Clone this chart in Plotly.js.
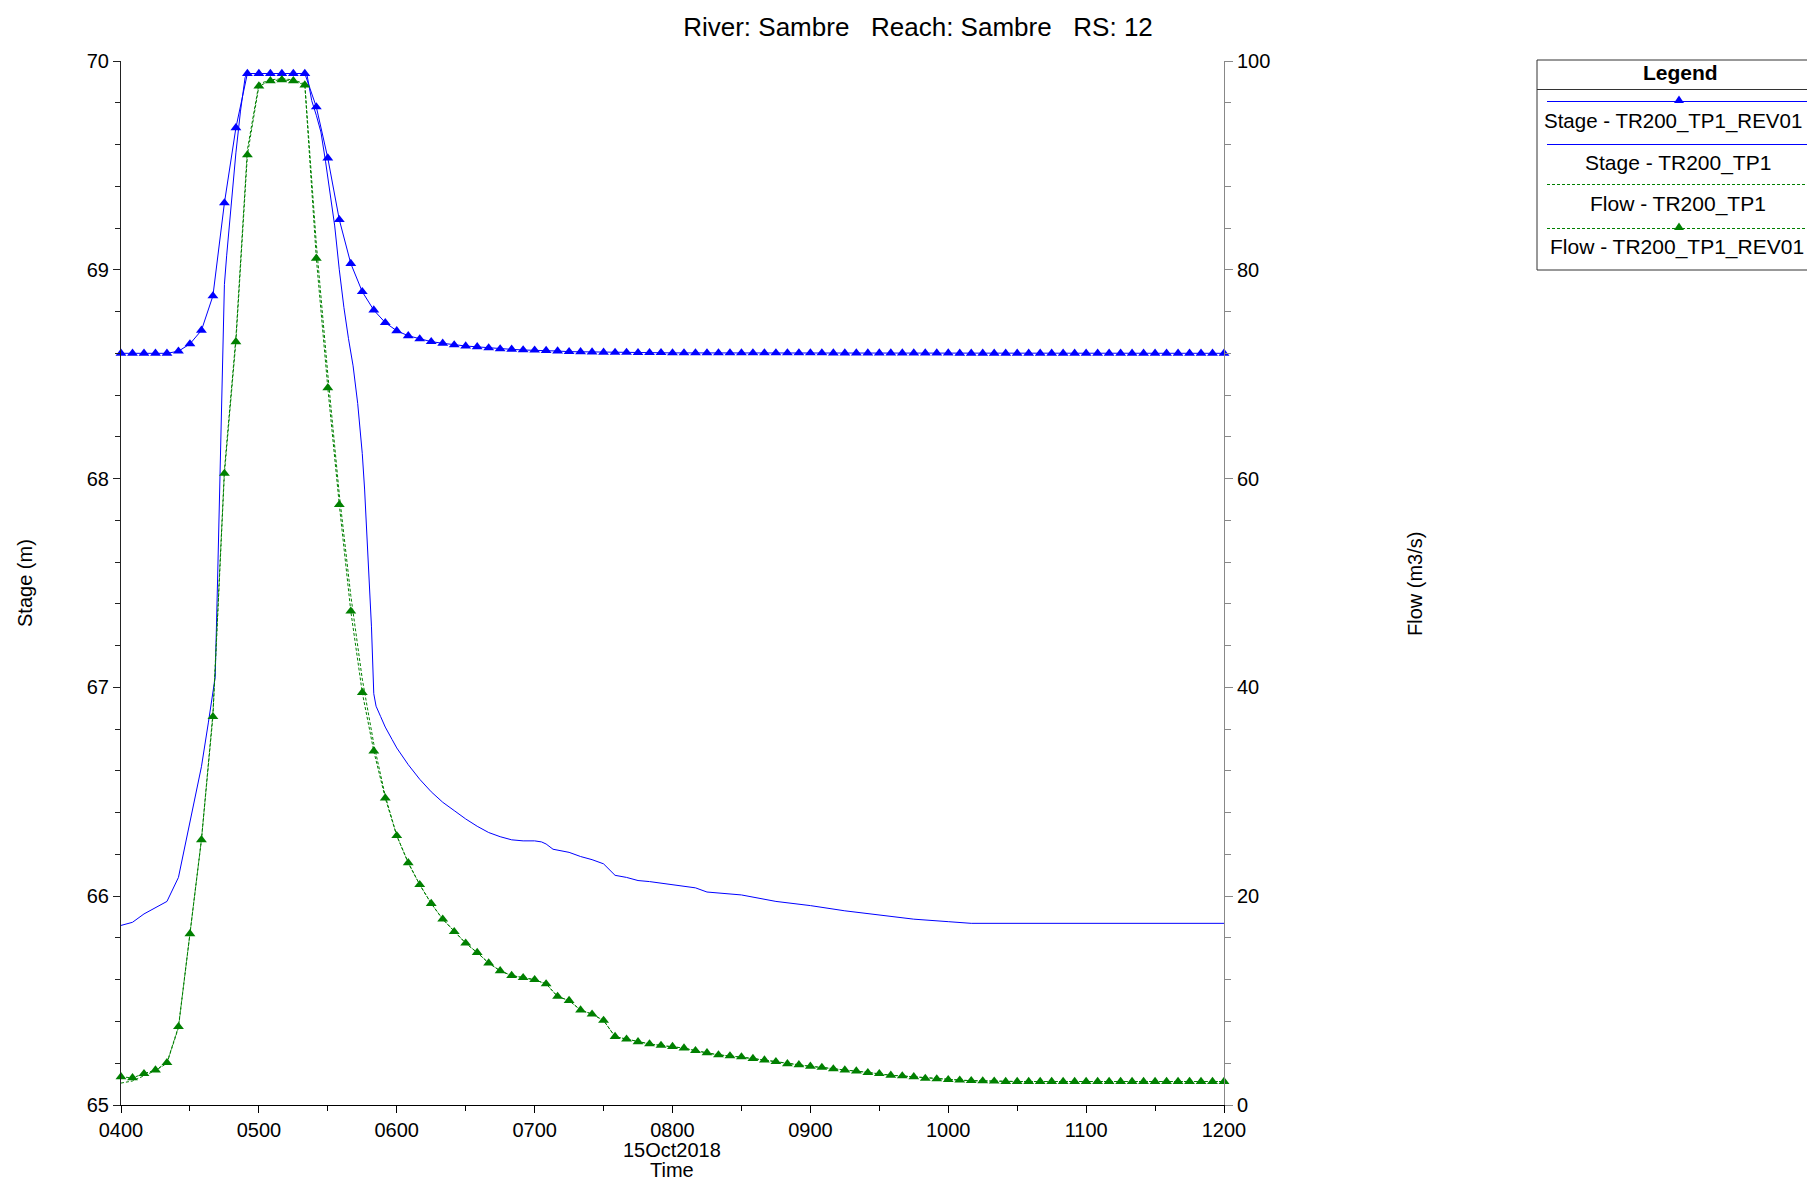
<!DOCTYPE html>
<html><head><meta charset="utf-8">
<script src="https://cdn.plot.ly/plotly-3.0.1.min.js"></script>
<style>html,body{margin:0;padding:0;background:#fff;} #chart{width:1807px;height:1180px;}</style>
</head><body><div id="chart"></div>
<script>
const DAY = '2018-10-15';

// 5-minute output times (REV01 plans and flow)
const times5 = [
 '04:00','04:05','04:10','04:15','04:20','04:25','04:30','04:35','04:40','04:45','04:50','04:55',
 '05:00','05:05','05:10','05:15','05:20','05:25','05:30','05:35','05:40','05:45','05:50','05:55',
 '06:00','06:05','06:10','06:15','06:20','06:25','06:30','06:35','06:40','06:45','06:50','06:55',
 '07:00','07:05','07:10','07:15','07:20','07:25','07:30','07:35','07:40','07:45','07:50','07:55',
 '08:00','08:05','08:10','08:15','08:20','08:25','08:30','08:35','08:40','08:45','08:50','08:55',
 '09:00','09:05','09:10','09:15','09:20','09:25','09:30','09:35','09:40','09:45','09:50','09:55',
 '10:00','10:05','10:10','10:15','10:20','10:25','10:30','10:35','10:40','10:45','10:50','10:55',
 '11:00','11:05','11:10','11:15','11:20','11:25','11:30','11:35','11:40','11:45','11:50','11:55',
 '12:00'];

const stageRev01 = [
 68.60,68.60,68.60,68.60,68.60,68.61,68.645,68.71,68.875,69.32,69.68,69.94,
 69.94,69.94,69.94,69.94,69.94,69.78,69.535,69.24,69.03,68.895,68.807,68.747,
 68.708,68.684,68.669,68.656,68.648,68.640,68.635,68.631,68.626,68.621,68.619,68.616,
 68.615,68.613,68.611,68.608,68.607,68.606,68.605,68.604,68.604,68.603,68.603,68.603,
 68.602,68.602,68.602,68.602,68.602,68.602,68.602,68.602,68.602,68.602,68.602,68.602,
 68.602,68.602,68.601,68.601,68.601,68.601,68.601,68.601,68.601,68.601,68.601,68.601,
 68.601,68.600,68.600,68.600,68.600,68.600,68.600,68.600,68.600,68.600,68.600,68.600,
 68.600,68.600,68.600,68.600,68.600,68.600,68.600,68.600,68.600,68.600,68.600,68.600,
 68.600];

const flowRev01 = [
 2.7,2.6,3.0,3.35,4.05,7.5,16.4,25.4,37.2,60.5,73.1,91.0,
 97.6,98.1,98.2,98.1,97.7,81.1,68.7,57.5,47.3,39.5,33.9,29.4,
 25.8,23.2,21.1,19.3,17.8,16.6,15.5,14.6,13.6,12.85,12.4,12.2,
 12.0,11.6,10.4,10.0,9.1,8.7,8.1,6.55,6.3,6.05,5.85,5.7,
 5.6,5.45,5.2,5.0,4.8,4.7,4.6,4.45,4.3,4.15,3.95,3.85,
 3.7,3.6,3.45,3.35,3.25,3.1,3.0,2.85,2.78,2.7,2.55,2.5,
 2.42,2.38,2.33,2.3,2.28,2.25,2.25,2.25,2.25,2.25,2.25,2.25,
 2.25,2.25,2.25,2.25,2.25,2.25,2.25,2.25,2.25,2.25,2.25,2.25,
 2.25];

const flowTP1 = [
 2.1,2.3,2.8,3.3,4.0,7.4,16.4,25.4,37.5,60.8,73.5,91.5,
 97.8,98.2,98.3,98.2,97.8,82.5,70.0,58.5,48.8,40.8,34.6,29.6,
 25.8,23.2,21.1,19.3,17.8,16.6,15.5,14.6,13.6,12.85,12.4,12.2,
 12.0,11.6,10.4,10.0,9.1,8.7,8.1,6.55,6.3,6.05,5.85,5.7,
 5.6,5.45,5.2,5.0,4.8,4.7,4.6,4.45,4.3,4.15,3.95,3.85,
 3.7,3.6,3.45,3.35,3.25,3.1,3.0,2.85,2.78,2.7,2.55,2.5,
 2.42,2.38,2.33,2.3,2.28,2.25,2.25,2.25,2.25,2.25,2.25,2.25,
 2.25,2.25,2.25,2.25,2.25,2.25,2.25,2.25,2.25,2.25,2.25,2.25,
 2.25];

// Stage TR200_TP1 (finer output around the sharp changes)
const stageTP1Times = [
 '04:00','04:05','04:10','04:15','04:20','04:25','04:30','04:35','04:38','04:40','04:41','04:42','04:43','04:44','04:45','04:46','04:48','04:50','04:52','04:54','04:55',
 '05:20','05:21','05:23','05:25','05:27','05:29','05:31','05:33','05:35','05:37','05:39','05:41','05:43','05:45','05:46','05:47','05:48','05:49','05:50','05:51','05:53','05:55','05:58',
 '06:00','06:05','06:10','06:15','06:20','06:25','06:30','06:35','06:40','06:45','06:50','06:55',
 '07:00','07:03','07:05','07:08','07:10','07:15','07:20','07:25','07:30','07:35','07:40','07:45','07:50',
 '08:00','08:10','08:15','08:30','08:45','09:00','09:15','09:30','09:45','10:00','10:05','10:10','12:00'];
const stageTP1 = [
 65.86,65.875,65.915,65.945,65.975,66.09,66.35,66.62,66.83,66.98,67.05,67.50,68.00,68.45,68.93,69.07,69.32,69.56,69.76,69.92,69.94,
 69.94,69.93,69.81,69.74,69.66,69.52,69.37,69.21,69.00,68.82,68.67,68.54,68.36,68.12,67.95,67.75,67.54,67.29,66.97,66.91,66.86,66.81,66.75,
 66.71,66.63,66.56,66.50,66.45,66.41,66.37,66.335,66.305,66.285,66.27,66.265,
 66.265,66.26,66.25,66.225,66.22,66.21,66.19,66.175,66.155,66.10,66.09,66.075,66.07,
 66.055,66.04,66.02,66.006,65.975,65.955,65.93,65.91,65.89,65.878,65.873,65.87,65.87];

const xTickLabels = ['0400','0500','0600','0700','0800','0900','1000','1100','1200'];
const legendNames = ['Stage - TR200_TP1_REV01','Stage - TR200_TP1','Flow - TR200_TP1','Flow - TR200_TP1_REV01'];

const toDate = t => DAY + ' ' + t;
const xTickVals = xTickLabels.map(l => toDate(l.slice(0,2) + ':' + l.slice(2)));

const BLUE = '#0000ff', GREEN = '#008000';
const FONT = 'Liberation Sans, Arial, Helvetica, sans-serif';

// pixel -> paper helpers (plot area 121..1224 x, 61..1105 y)
const L = 121, R = 1224, T = 61, B = 1105;
const px = x => (x - L) / (R - L);
const py = y => (B - y) / (B - T);

const traces = [
 {x: stageTP1Times.map(toDate), y: stageTP1, name: legendNames[1], type: 'scatter', mode: 'lines',
  line: {color: BLUE, width: 1}, yaxis: 'y'},
 {x: times5.map(toDate), y: flowTP1, name: legendNames[2], type: 'scatter', mode: 'lines',
  line: {color: GREEN, width: 1, dash: '3px,2px'}, yaxis: 'y2'},
 {x: times5.map(toDate), y: flowRev01, name: legendNames[3], type: 'scatter', mode: 'lines+markers',
  line: {color: GREEN, width: 1, dash: '3px,2px'}, marker: {symbol: 'triangle-up', size: 9.5, color: GREEN},
  yaxis: 'y2', cliponaxis: false},
 {x: times5.map(toDate), y: stageRev01, name: legendNames[0], type: 'scatter', mode: 'lines+markers',
  line: {color: BLUE, width: 1}, marker: {symbol: 'triangle-up', size: 9.5, color: BLUE},
  yaxis: 'y', cliponaxis: false}
];

function tri(cx, cy) {
  return `M ${px(cx)} ${py(cy-4.5)} L ${px(cx+5)} ${py(cy+3)} L ${px(cx-5)} ${py(cy+3)} Z`;
}

const shapes = [
 {type:'rect', xref:'paper', yref:'paper', x0:px(1537), x1:px(1840), y0:py(60), y1:py(270), line:{color:'#333', width:1}},
 {type:'line', xref:'paper', yref:'paper', x0:px(1537), x1:px(1840), y0:py(89.5), y1:py(89.5), line:{color:'#333', width:1}},
 {type:'line', xref:'paper', yref:'paper', x0:px(1547), x1:px(1840), y0:py(101.5), y1:py(101.5), line:{color:BLUE, width:1}},
 {type:'path', xref:'paper', yref:'paper', path: tri(1679, 100), fillcolor: BLUE, line:{width:0}},
 {type:'line', xref:'paper', yref:'paper', x0:px(1547), x1:px(1840), y0:py(144.5), y1:py(144.5), line:{color:BLUE, width:1}},
 {type:'line', xref:'paper', yref:'paper', x0:px(1547), x1:px(1840), y0:py(184.5), y1:py(184.5), line:{color:GREEN, width:1, dash:'3px,2px'}},
 {type:'line', xref:'paper', yref:'paper', x0:px(1547), x1:px(1840), y0:py(228.5), y1:py(228.5), line:{color:GREEN, width:1, dash:'3px,2px'}},
 {type:'path', xref:'paper', yref:'paper', path: tri(1679, 227), fillcolor: GREEN, line:{width:0}}
];

const ann = (text, x, y, extra) => Object.assign({text, xref:'paper', yref:'paper', x: px(x), y: py(y),
  showarrow:false, xanchor:'center', yanchor:'middle', font:{family:FONT, size:20, color:'#000'}}, extra || {});
const legFont = {font:{family:FONT, size:21, color:'#000'}};

const annotations = [
 ann('15Oct2018', 672, 1149.5),
 ann('Time', 672, 1170),
 ann('Stage (m)', 25, 583, {textangle:-90}),
 ann('Flow (m3/s)', 1415, 584, {textangle:-90}),
 ann('<b>Legend</b>', 1680, 73, legFont),
 ann(legendNames[0], 1673, 121, {font:{family:FONT, size:20.5, color:'#000'}}),
 ann(legendNames[1], 1678, 163, legFont),
 ann(legendNames[2], 1678, 204, legFont),
 ann(legendNames[3], 1677, 246.5, legFont)
];

const layout = {
  width: 1807, height: 1180,
  margin: {l: L, r: 1807 - R, t: T, b: 1180 - B, pad: 0},
  paper_bgcolor: '#fff', plot_bgcolor: '#fff',
  font: {family: FONT, size: 20, color: '#000'},
  showlegend: false,
  title: {text: 'River: Sambre\u00a0\u00a0\u00a0Reach: Sambre\u00a0\u00a0\u00a0RS: 12',
          font: {family: FONT, size: 26, color: '#000'},
          xref: 'container', yref: 'container', x: 918/1807, xanchor: 'center', y: 1 - 27/1180, yanchor: 'middle'},
  xaxis: {type: 'date', range: [toDate('04:00'), toDate('12:00')],
          tickmode: 'array', tickvals: xTickVals, ticktext: xTickLabels,
          ticks: 'outside', ticklen: 7, tickwidth: 1, tickcolor: '#000',
          showline: true, linecolor: '#000', linewidth: 1, mirror: false,
          showgrid: false, zeroline: false, tickfont: {size: 20},
          minor: {tickmode: 'linear', tick0: toDate('04:30'), dtick: 3600000, ticks: 'outside', ticklen: 5, tickcolor: '#000', tickwidth: 1, showgrid: false}},
  yaxis: {range: [65, 70], tickmode: 'linear', tick0: 65, dtick: 1,
          ticks: 'outside', ticklen: 7, tickwidth: 1, tickcolor: '#222',
          showline: true, linecolor: '#222', linewidth: 1,
          showgrid: false, zeroline: false, tickfont: {size: 20},
          minor: {tickmode: 'linear', tick0: 65, dtick: 0.2, ticks: 'outside', ticklen: 5, tickcolor: '#222', tickwidth: 1, showgrid: false}},
  yaxis2: {range: [0, 100], overlaying: 'y', side: 'right', tickmode: 'linear', tick0: 0, dtick: 20,
          ticks: 'outside', ticklen: 8, tickwidth: 1, tickcolor: '#888',
          showline: true, linecolor: '#888', linewidth: 1,
          showgrid: false, zeroline: false, tickfont: {size: 20},
          minor: {tickmode: 'linear', tick0: 0, dtick: 4, ticks: 'outside', ticklen: 6, tickcolor: '#888', tickwidth: 1, showgrid: false}},
  shapes, annotations
};

Plotly.newPlot('chart', traces, layout, {displayModeBar: false, staticPlot: true});
</script></body></html>
